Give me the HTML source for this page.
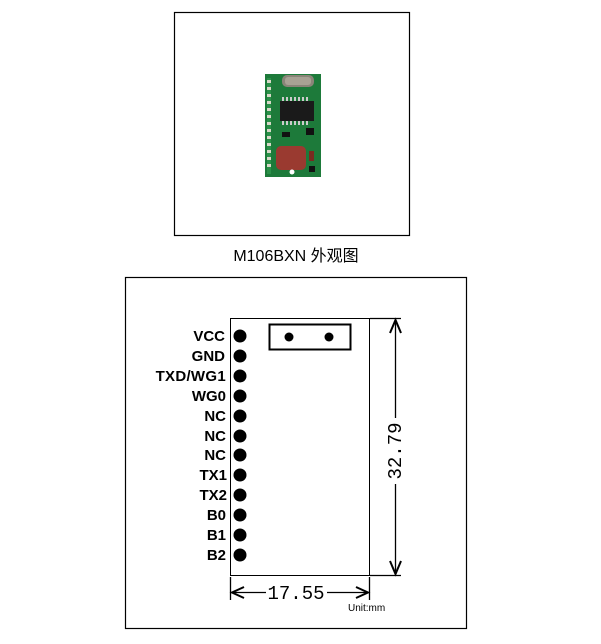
<!DOCTYPE html>
<html><head><meta charset="utf-8"><style>
html,body{margin:0;padding:0;background:#fff;width:601px;height:644px;overflow:hidden}
</style></head><body>
<svg width="601" height="644" viewBox="0 0 601 644" xmlns="http://www.w3.org/2000/svg">
<rect x="174.5" y="12.5" width="235" height="223" fill="#fff" stroke="#000" stroke-width="1.2"/>
<!-- PCB -->
<g>
<rect x="265" y="74" width="56" height="103" fill="#1d7a3a"/>
<rect x="267" y="78" width="4" height="96" fill="#2a9048"/>
<g fill="#d8d8c8">
<rect x="267" y="80" width="4" height="3"/><rect x="267" y="87" width="4" height="3"/><rect x="267" y="94" width="4" height="3"/><rect x="267" y="101" width="4" height="3"/><rect x="267" y="108" width="4" height="3"/><rect x="267" y="115" width="4" height="3"/><rect x="267" y="122" width="4" height="3"/><rect x="267" y="129" width="4" height="3"/><rect x="267" y="136" width="4" height="3"/><rect x="267" y="143" width="4" height="3"/><rect x="267" y="150" width="4" height="3"/><rect x="267" y="157" width="4" height="3"/><rect x="267" y="164" width="4" height="3"/>
</g>
<rect x="282" y="75" width="32" height="12" rx="5" fill="#8a8478"/>
<rect x="285" y="77" width="26" height="8" rx="3" fill="#a8a294"/>
<rect x="280" y="101" width="34" height="20" fill="#1a1a1a"/>
<g fill="#ccc"><rect x="282" y="97" width="2" height="4"/><rect x="286" y="97" width="2" height="4"/><rect x="290" y="97" width="2" height="4"/><rect x="294" y="97" width="2" height="4"/><rect x="298" y="97" width="2" height="4"/><rect x="302" y="97" width="2" height="4"/><rect x="306" y="97" width="2" height="4"/>
<rect x="282" y="121" width="2" height="4"/><rect x="286" y="121" width="2" height="4"/><rect x="290" y="121" width="2" height="4"/><rect x="294" y="121" width="2" height="4"/><rect x="298" y="121" width="2" height="4"/><rect x="302" y="121" width="2" height="4"/><rect x="306" y="121" width="2" height="4"/></g>
<rect x="306" y="128" width="8" height="7" fill="#111"/>
<rect x="282" y="132" width="8" height="5" fill="#111"/>
<rect x="276" y="146" width="30" height="24" rx="5" fill="#9a3a30"/>
<rect x="309" y="151" width="5" height="10" fill="#7a2a20"/>
<rect x="309" y="166" width="6" height="6" fill="#111"/>
<circle cx="292" cy="172" r="2.5" fill="#fff"/>
</g>
<text x="296" y="261" text-anchor="middle" font-family="'Liberation Sans','Noto Sans CJK SC',sans-serif" font-size="16" fill="#000">M106BXN 外观图</text>

<rect x="125.5" y="277.5" width="341" height="351" fill="#fff" stroke="#000" stroke-width="1.2"/>
<rect x="230.5" y="318.5" width="139" height="257" fill="none" stroke="#000" stroke-width="1"/>
<rect x="269.5" y="324.5" width="81" height="25" fill="none" stroke="#000" stroke-width="2"/>
<circle cx="289" cy="337" r="4.5" fill="#000"/>
<circle cx="329" cy="337" r="4.5" fill="#000"/>
<g fill="#000">
<circle cx="240" cy="336" r="6.5"/><circle cx="240" cy="356" r="6.5"/><circle cx="240" cy="376" r="6.5"/><circle cx="240" cy="396" r="6.5"/><circle cx="240" cy="416" r="6.5"/><circle cx="240" cy="436" r="6.5"/><circle cx="240" cy="455" r="6.5"/><circle cx="240" cy="475" r="6.5"/><circle cx="240" cy="495" r="6.5"/><circle cx="240" cy="515" r="6.5"/><circle cx="240" cy="535" r="6.5"/><circle cx="240" cy="555" r="6.5"/>
</g>
<g font-family="'Liberation Sans',sans-serif" font-weight="bold" font-size="15" text-anchor="end" fill="#000">
<text x="225" y="341">VCC</text><text x="225" y="361">GND</text><text x="226" y="381" letter-spacing="0.3">TXD/WG1</text><text x="226" y="401">WG0</text><text x="226" y="421">NC</text><text x="226" y="441">NC</text><text x="226" y="460">NC</text><text x="227" y="480">TX1</text><text x="227" y="500">TX2</text><text x="226" y="520">B0</text><text x="226" y="540">B1</text><text x="226" y="560">B2</text>
</g>
<g stroke="#000" stroke-width="1.3" fill="none">
<line x1="370" y1="318.5" x2="401" y2="318.5"/>
<line x1="370" y1="575.5" x2="401" y2="575.5"/>
<line x1="395.5" y1="320" x2="395.5" y2="418"/>
<line x1="395.5" y1="484" x2="395.5" y2="573"/>
<polyline points="390,333 395.5,320 401,333" stroke-width="2"/>
<polyline points="390,561 395.5,574 401,561" stroke-width="2"/>
<line x1="230.5" y1="577" x2="230.5" y2="600"/>
<line x1="369.5" y1="577" x2="369.5" y2="600"/>
<line x1="232" y1="592.5" x2="266" y2="592.5"/>
<line x1="327" y1="592.5" x2="368" y2="592.5"/>
<polyline points="244,587 232,592.5 244,598" stroke-width="2"/>
<polyline points="356,587 368,592.5 356,598" stroke-width="2"/>
</g>
<text transform="translate(401,451) rotate(-90)" text-anchor="middle" font-family="'Liberation Mono',monospace" font-size="19" fill="#000">32.79</text>
<text x="296" y="599" text-anchor="middle" font-family="'Liberation Mono',monospace" font-size="19" fill="#000">17.55</text>
<text x="348" y="611" font-family="'Liberation Sans',sans-serif" font-size="10" fill="#000">Unit:mm</text>
</svg>
</body></html>
